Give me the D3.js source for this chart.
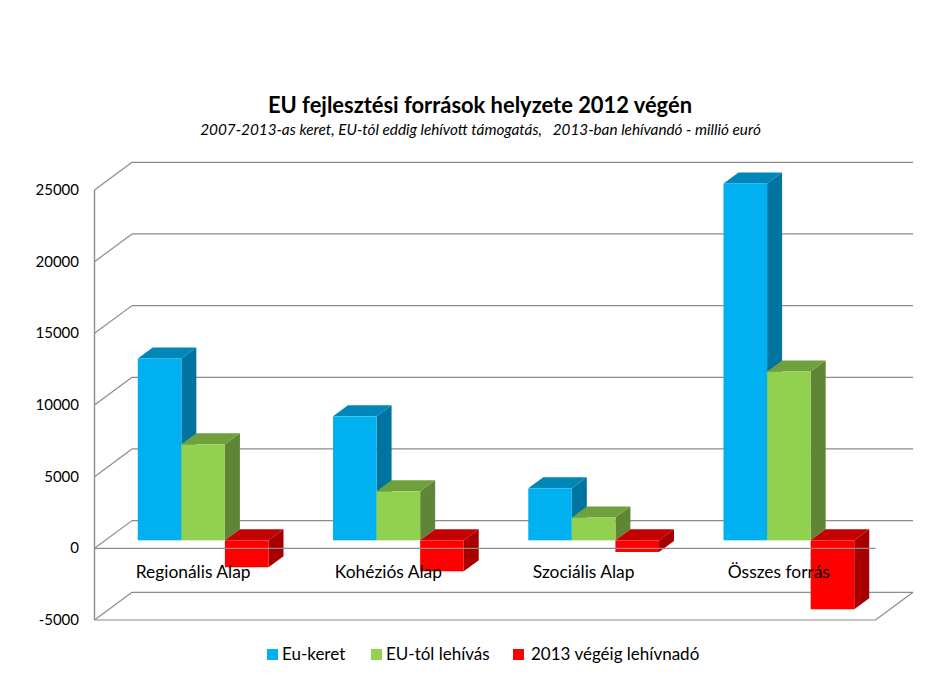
<!DOCTYPE html>
<html><head><meta charset="utf-8">
<script src="https://cdn.jsdelivr.net/npm/d3@7"></script>
<style>html,body{margin:0;background:#fff}svg{display:block}text{font-family:Lato,"Open Sans",sans-serif;fill:#000}</style>
</head><body><svg id="c" width="942" height="679"></svg>
<script>
const categories = ["Regionális Alap","Kohéziós Alap","Szociális Alap","Összes forrás"];
const seriesNames = ["Eu-keret","EU-tól lehívás","2013 végéig lehívnadó"];
const euKeret = [12690,8650,3630,24900];
const euLehivas = [6700,3420,1600,11780];
const lehivando = [-1880,-2160,-815,-4810];
const tickValues = [25000,20000,15000,10000,5000,0,-5000];
const titleText = "EU fejlesztési források helyzete 2012 végén";
const subtitleText = "2007-2013-as keret, EU-tól eddig lehívott támogatás,   2013-ban lehívandó - millió euró";
const faceColors = ["#00B0F0","#92D050","#FF0000"];
const sideColors = ["#0074A0","#5F8636","#A80000"];
const topColors = ["#0087B8","#6FA03C","#C40000"];
const seriesValues = [euKeret,euLehivas,lehivando];

const svg = d3.select("#c");
const y = d3.scaleLinear().domain([-5000,25000]).range([620,190]);
const x = d3.scaleBand().domain(categories).range([94.5,875.5]);
const sub = d3.scaleBand().domain(d3.range(3)).range([0,x.bandwidth()]).paddingOuter(0.7407).paddingInner(0);
const wall = {dx:37.5,dy:-27.7}, plane = {dx:11,dy:-8}, depth = {dx:15,dy:-11};
const gridColor = "#8C8C8C";
const g = svg.append("g");

function ln(a,b,c,d,w){g.append("line").attr("x1",a).attr("y1",b).attr("x2",c).attr("y2",d).attr("stroke",gridColor).attr("stroke-width",w||1.2);}
const [x0,x1] = x.range();
tickValues.forEach(t=>{
  ln(x0,y(t),x0+wall.dx,y(t)+wall.dy);
  ln(x0+wall.dx,y(t)+wall.dy,x1+wall.dx,y(t)+wall.dy);
});
ln(x0,y(25000),x0,y(-5000),1.4);
ln(x1,y(-5000),x1+wall.dx,y(-5000)+wall.dy);

const pts = p=>p.map(d=>d.join(",")).join(" ");
categories.forEach((c,i)=>{
  seriesValues.forEach((vals,s)=>{
    const v = vals[i];
    const L = x(c)+sub(s)+plane.dx, R = L+sub.bandwidth();
    const top = y(Math.max(v,0))+plane.dy, bot = y(Math.min(v,0))+plane.dy;
    g.append("polygon").attr("points",pts([[R,top],[R+depth.dx,top+depth.dy],[R+depth.dx,bot+depth.dy],[R,bot]])).attr("fill",sideColors[s]);
    g.append("polygon").attr("points",pts([[L,top],[L+depth.dx,top+depth.dy],[R+depth.dx,top+depth.dy],[R,top]])).attr("fill",topColors[s]);
    g.append("rect").attr("x",L).attr("y",top).attr("width",R-L).attr("height",bot-top).attr("fill",faceColors[s]);
  });
});
ln(x0,y(0),x1,y(0));
ln(x0,y(-5000),x1,y(-5000));

tickValues.forEach(t=>{
  g.append("text").attr("x",79).attr("y",y(t)+5).attr("text-anchor","end").attr("font-size",15).text(t);
});
categories.forEach(c=>{
  g.append("text").attr("x",x(c)+x.bandwidth()/2+1).attr("y",578).attr("text-anchor","middle").attr("font-size",17.4).text(c);
});
g.append("text").attr("x",480).attr("y",113).attr("text-anchor","middle").attr("font-size",21.9).attr("font-weight",700).text(titleText);
g.append("text").attr("x",480.5).attr("y",135).attr("text-anchor","middle").attr("font-size",15.3).attr("font-style","italic").style("white-space","pre").text(subtitleText);
const legendX = d3.scaleOrdinal().domain(seriesNames).range([267,371,513]);
seriesNames.forEach((n,s)=>{
  const lx = legendX(n);
  g.append("rect").attr("x",lx).attr("y",649).attr("width",11).attr("height",11).attr("fill",faceColors[s]);
  g.append("text").attr("x",lx+(s==2?18:15)).attr("y",660).attr("font-size",17).text(n);
});
</script></body></html>
